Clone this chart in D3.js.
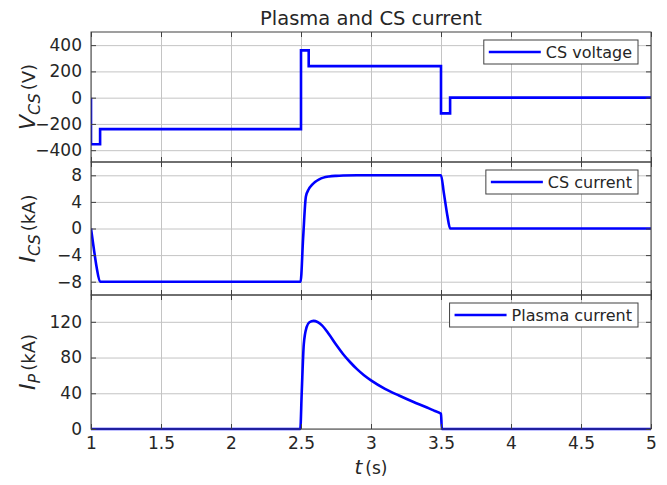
<!DOCTYPE html>
<html>
<head>
<meta charset="utf-8">
<script src="https://cdn.jsdelivr.net/npm/d3@7/dist/d3.min.js"></script>
<style>
body { margin: 0; background: #fff; }
text { font-family: "DejaVu Sans", "Liberation Sans", sans-serif; fill: #262626; }
</style>
</head>
<body>
<div id="chart"></div>
<script>
// tick labels
var xTicks = [1, 1.5, 2, 2.5, 3, 3.5, 4, 4.5, 5];
var voltTicks = [-400, -200, 0, 200, 400];
var csTicks = [-8, -4, 0, 4, 8];
var ipTicks = [0, 40, 80, 120];

// CS voltage (V), step after each time
var voltTime  = [1, 1, 1.065, 2.5, 2.555, 3.5, 3.565, 5];
var voltValue = [0, -355, -240, 360, 240, -120, 0, 0];

// CS current (kA)
var csTime  = [1, 1.02, 1.04, 1.065, 2.497, 2.515, 2.535, 2.555, 2.58, 2.6, 2.63, 2.66, 2.7, 2.75, 2.8, 2.9, 3.5, 3.52, 3.545, 3.565, 5];
var csValue = [0, -3.0, -5.8, -8, -8, -1.5, 4.8, 5.9, 6.6, 7.0, 7.4, 7.65, 7.82, 7.92, 7.97, 8, 8, 5.4, 2.0, 0, 0];

// plasma current (kA)
var ipTime  = [1, 2.495, 2.505, 2.52, 2.54, 2.56, 2.59, 2.65, 2.7, 2.75, 2.8, 2.85, 2.9, 2.95, 3.0, 3.1, 3.2, 3.3, 3.4, 3.45, 3.5, 3.506, 5];
var ipValue = [0, 0, 40, 95, 114, 119.5, 121, 116, 106, 94.5, 84, 75, 67, 60.2, 54.5, 45, 37.5, 30.5, 24, 20.5, 17, 0, 0];

var W = 667, H = 485;
var left = 91, right = 651;
var lineColor = '#0000ff';

var svg = d3.select('#chart').append('svg')
  .attr('width', W)
  .attr('height', H);

var x = d3.scaleLinear().domain([1, 5]).range([left, right]);

var panels = [
  { top: 32, bottom: 162, domain: [-490, 500], ticks: voltTicks, t: voltTime, v: voltValue,
    curve: d3.curveStepAfter, name: 'CS voltage', sym: 'V', sub: 'CS', unit: '(V)' },
  { top: 162, bottom: 295, domain: [-10, 10], ticks: csTicks, t: csTime, v: csValue,
    curve: d3.curveMonotoneX, name: 'CS current', sym: 'I', sub: 'CS', unit: '(kA)' },
  { top: 295, bottom: 429, domain: [0, 150], ticks: ipTicks, t: ipTime, v: ipValue,
    curve: d3.curveMonotoneX, name: 'Plasma current', sym: 'I', sub: 'P', unit: '(kA)' }
];

var fmt = function(d) { return d3.format('')(d).replace('-', '\u2212'); };

panels.forEach(function(p, i) {
  var y = d3.scaleLinear().domain(p.domain).range([p.bottom, p.top]);
  var g = svg.append('g');

  // grid
  g.append('g')
    .attr('transform', 'translate(0,' + p.bottom + ')')
    .call(d3.axisBottom(x).tickValues(xTicks).tickSize(-(p.bottom - p.top)).tickFormat(''))
    .call(function(s) { s.select('.domain').remove(); s.selectAll('line').attr('stroke', '#c4c4c4'); });
  g.append('g')
    .attr('transform', 'translate(' + left + ',0)')
    .call(d3.axisLeft(y).tickValues(p.ticks).tickSize(-(right - left)).tickFormat(''))
    .call(function(s) { s.select('.domain').remove(); s.selectAll('line').attr('stroke', '#c4c4c4'); });

  // data line
  var clipId = 'clip' + i;
  g.append('clipPath').attr('id', clipId)
    .append('rect')
    .attr('x', left).attr('y', p.top - 2)
    .attr('width', right - left).attr('height', p.bottom - p.top + 4);

  var line = d3.line()
    .x(function(d, j) { return x(p.t[j]); })
    .y(function(d) { return y(d); })
    .curve(p.curve);

  g.append('path')
    .attr('clip-path', 'url(#' + clipId + ')')
    .attr('d', line(p.v))
    .attr('fill', 'none')
    .attr('stroke', lineColor)
    .attr('stroke-width', 2.6)
    .attr('stroke-linejoin', 'miter');

  // axes (ticks point inward)
  var axL = g.append('g')
    .attr('transform', 'translate(' + left + ',0)')
    .call(d3.axisLeft(y).tickValues(p.ticks).tickSizeInner(-5).tickSizeOuter(0).tickPadding(9).tickFormat(fmt));
  axL.selectAll('text').attr('font-size', 17).attr('font-family', null);
  g.append('g')
    .attr('transform', 'translate(' + right + ',0)')
    .call(d3.axisRight(y).tickValues(p.ticks).tickSizeInner(-5).tickSizeOuter(0).tickFormat(''));
  var axB = g.append('g')
    .attr('transform', 'translate(0,' + p.bottom + ')')
    .call(d3.axisBottom(x).tickValues(xTicks).tickSizeInner(-5).tickSizeOuter(0).tickPadding(8)
      .tickFormat(i == 2 ? d3.format('') : ''));
  axB.selectAll('text').attr('font-size', 17).attr('font-family', null);
  g.append('g')
    .attr('transform', 'translate(0,' + p.top + ')')
    .call(d3.axisTop(x).tickValues(xTicks).tickSizeInner(-5).tickSizeOuter(0).tickFormat(''));
  g.selectAll('.domain').remove();
  g.selectAll('.tick line').filter(function() { return d3.select(this).attr('stroke') != '#c4c4c4'; })
    .attr('stroke', '#404040');
  g.append('rect')
    .attr('x', left).attr('y', p.top)
    .attr('width', right - left).attr('height', p.bottom - p.top)
    .attr('fill', 'none').attr('stroke', '#404040').attr('stroke-width', 1);

  // y label
  var yl = svg.append('text')
    .attr('transform', 'translate(35,' + ((p.top + p.bottom) / 2) + ') rotate(-90)')
    .attr('text-anchor', 'middle')
    .attr('font-size', 22);
  yl.append('tspan').attr('font-style', 'italic').text(p.sym);
  yl.append('tspan').attr('font-style', 'italic').attr('font-size', 16).attr('dy', 5).text(p.sub);
  yl.append('tspan').attr('font-size', 18).attr('dy', -5).attr('dx', 3).text(p.unit);

  // legend
  var lg = g.append('g');
  var txt = lg.append('text')
    .attr('font-size', 16)
    .attr('text-anchor', 'end')
    .attr('x', 632)
    .attr('y', p.top + 26)
    .text(p.name);
  var tw = txt.node().getComputedTextLength();
  var bx = 632 - tw - 62;
  lg.insert('rect', 'text')
    .attr('x', bx).attr('y', p.top + 8)
    .attr('width', 638 - bx).attr('height', 24)
    .attr('fill', '#fff').attr('stroke', '#404040').attr('stroke-width', 1);
  lg.append('line')
    .attr('x1', bx + 5).attr('x2', bx + 57)
    .attr('y1', p.top + 20).attr('y2', p.top + 20)
    .attr('stroke', lineColor).attr('stroke-width', 2.6);
});

// title
svg.append('text')
  .attr('x', (left + right) / 2).attr('y', 25)
  .attr('text-anchor', 'middle')
  .attr('font-size', 19.5)
  .text('Plasma and CS current');

// x label
var xl = svg.append('text')
  .attr('x', (left + right) / 2).attr('y', 474)
  .attr('text-anchor', 'middle')
  .attr('font-size', 20);
xl.append('tspan').attr('font-style', 'italic').text('t');
xl.append('tspan').attr('dx', 3).attr('font-size', 17).text('(s)');
</script>
</body>
</html>
